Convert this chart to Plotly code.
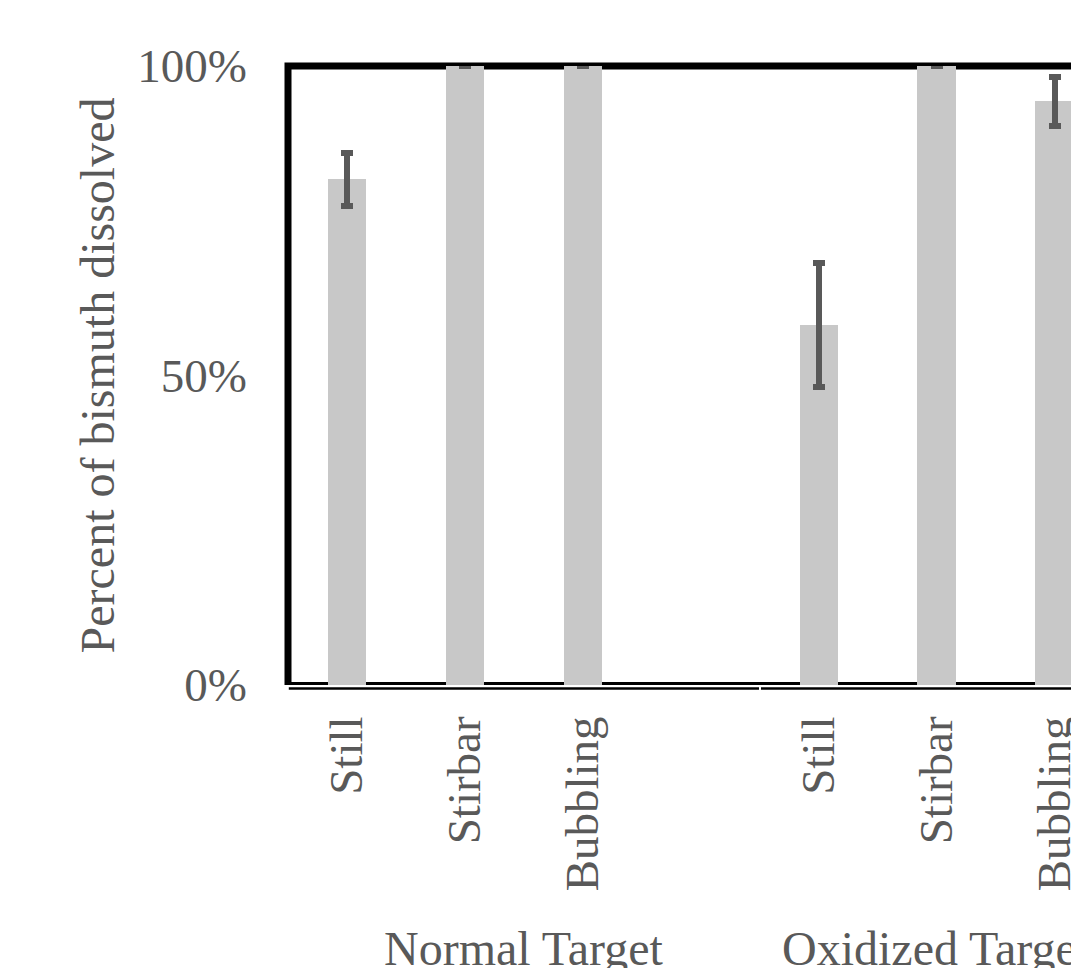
import plotly.graph_objects as go

# Dissolution conditions and target types
conditions = ["Still", "Stirbar", "Bubbling"]
groups = ["Normal Target", "Oxidized Target"]

# Mean fraction of bismuth dissolved and its error (standard deviation)
normal_mean = [0.817, 1.0, 1.0]
normal_err = [0.043, 0.0, 0.0]
oxidized_mean = [0.582, 1.0, 0.943]
oxidized_err = [0.100, 0.0, 0.040]

y_ticks = [0, 0.5, 1.0]

# Slot layout: the normal group owns four slots (last one empty), oxidized follows
group_start = [0, 4]
x_pos = [group_start[0] + i for i in range(len(conditions))] + \
        [group_start[1] + i for i in range(len(conditions))]
means = normal_mean + oxidized_mean
errs = normal_err + oxidized_err
tick_text = conditions + conditions

TEXT = "#595959"
FONT = "Liberation Serif, Times New Roman, serif"

fig = go.Figure()
fig.add_trace(go.Bar(
    x=x_pos,
    y=means,
    width=0.33,
    marker=dict(color="#C8C8C8", line=dict(width=0)),
    error_y=dict(type="data", array=errs, visible=True,
                 color=TEXT, thickness=6, width=6),
    showlegend=False,
))

# Group labels centred under each group of bars
group_centers = [group_start[0] + 1.5, group_start[1] + 1]
for label, cx in zip(groups, group_centers):
    fig.add_annotation(
        x=cx, xref="x", y=0, yref="paper",
        yanchor="middle", yshift=-263,
        text=label, showarrow=False,
        font=dict(family=FONT, size=48, color=TEXT),
    )

shapes = [
    # heavy frame on the left and top, behind the bars
    dict(type="path", xref="paper", yref="paper",
         path="M 0,0 L 0,1 L 1.05,1",
         line=dict(color="black", width=7), layer="below"),
    # heavy frame along the bottom, behind the bars
    dict(type="line", xref="paper", yref="paper",
         x0=0, x1=1.01, y0=1.5, y1=1.5, ysizemode="pixel", yanchor=0,
         line=dict(color="black", width=3), layer="below"),
    # category axis line just below the frame
    dict(type="line", xref="paper", yref="paper",
         x0=0.001, x1=1.01, y0=-3.5, y1=-3.5, ysizemode="pixel", yanchor=0,
         line=dict(color="black", width=2.5), layer="above"),
    # small gap in the axis line between the two groups
    dict(type="line", xref="x", yref="paper",
         x0=group_start[1] - 0.5, x1=group_start[1] - 0.5,
         y0=-1, y1=-6, ysizemode="pixel", yanchor=0,
         line=dict(color="white", width=2), layer="above"),
]

fig.update_layout(
    width=1071, height=968,
    margin=dict(l=288, r=0, t=66, b=283, pad=0, autoexpand=False),
    paper_bgcolor="white", plot_bgcolor="white",
    font=dict(family=FONT, color=TEXT),
    shapes=shapes,
    bargap=0,
)

fig.update_xaxes(
    range=[-0.5, 6.136], automargin=False,
    tickmode="array", tickvals=x_pos, ticktext=tick_text,
    tickangle=-90, tickfont=dict(family=FONT, size=47, color=TEXT),
    showgrid=False, zeroline=False, showline=False, ticks="",
    ticklabelstandoff=21, ticklabeloverflow="allow",
)

fig.update_yaxes(
    range=[0, 1], automargin=False,
    tickmode="array", tickvals=y_ticks, tickformat=".0%",
    tickfont=dict(family=FONT, size=47, color=TEXT),
    showgrid=False, zeroline=False, showline=False, ticks="",
    ticklabelstandoff=40,
    title=dict(text="Percent of bismuth dissolved",
               font=dict(family=FONT, size=48, color=TEXT), standoff=7),
)

fig.write_html("out.html")
